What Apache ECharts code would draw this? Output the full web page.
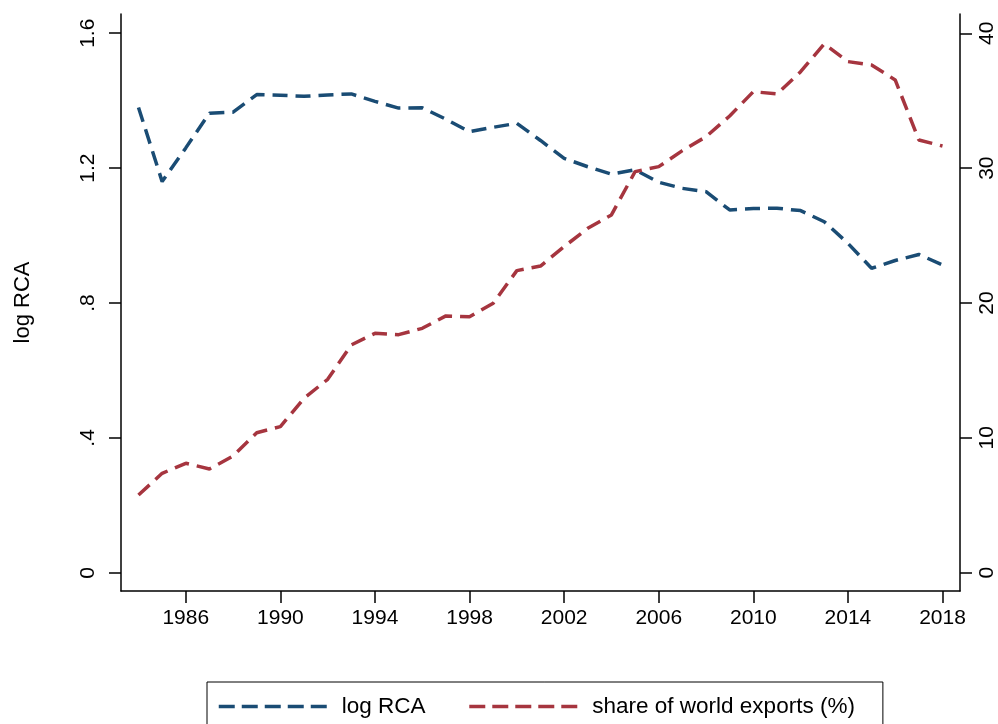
<!DOCTYPE html>
<html>
<head>
<meta charset="utf-8">
<script src="https://cdn.jsdelivr.net/npm/echarts@6/dist/echarts.min.js"></script>
<style>
  html, body { margin: 0; padding: 0; background: #fff; }
  #chart { width: 998px; height: 724px; }
</style>
</head>
<body>
<div id="chart"></div>
<script>
// years 1984..2018
const years = [
  1984, 1985, 1986, 1987, 1988, 1989, 1990, 1991, 1992, 1993, 1994, 1995,
  1996, 1997, 1998, 1999, 2000, 2001, 2002, 2003, 2004, 2005, 2006, 2007,
  2008, 2009, 2010, 2011, 2012, 2013, 2014, 2015, 2016, 2017, 2018
];

// log RCA (left axis)
const logRCA = [
  1.38, 1.16, 1.26, 1.363, 1.366, 1.418, 1.416, 1.413, 1.417, 1.42, 1.398, 1.378,
  1.379, 1.345, 1.308, 1.321, 1.333, 1.282, 1.229, 1.204, 1.182, 1.195, 1.158, 1.14,
  1.13, 1.076, 1.08, 1.081, 1.074, 1.041, 0.977, 0.903, 0.926, 0.944, 0.913
];

// share of world exports in % (right axis)
const shareExports = [
  5.76, 7.37, 8.11, 7.69, 8.65, 10.38, 10.83, 12.93, 14.34, 16.89, 17.75, 17.65,
  18.12, 19.04, 18.98, 19.98, 22.4, 22.74, 24.18, 25.54, 26.53, 29.74, 30.11, 31.3,
  32.33, 33.87, 35.67, 35.5, 37.15, 39.21, 37.9, 37.65, 36.54, 32.09, 31.64
];

const xTicks = [1986, 1990, 1994, 1998, 2002, 2006, 2010, 2014, 2018];
const leftTicks = [0, 0.4, 0.8, 1.2, 1.6];
const leftTickLabels = ["0", ".4", ".8", "1.2", "1.6"];
const rightTicks = [0, 10, 20, 30, 40];

const navy = "#1a4c74";
const maroon = "#a6353f";
const font = "'Liberation Sans', Arial, sans-serif";

const chart = echarts.init(document.getElementById("chart"), null, { renderer: "canvas" });

const axisCommon = {
  axisLine: { show: true, onZero: false, lineStyle: { color: "#000", width: 1.5 } },
  axisTick: { show: true, length: 12, lineStyle: { color: "#000", width: 1.5 } },
  splitLine: { show: false },
};

const option = {
  animation: false,
  backgroundColor: "#fff",
  grid: { left: 121, right: 35, top: 14, bottom: 133, containLabel: false },
  xAxis: {
    type: "value",
    min: 1983.26,
    max: 2018.74,
    ...axisCommon,
    axisTick: { ...axisCommon.axisTick, customValues: xTicks },
    axisLabel: {
      customValues: xTicks,
      margin: 17,
      color: "#000",
      fontSize: 21,
      fontFamily: font,
      formatter: (v) => String(v),
    },
  },
  yAxis: [
    {
      type: "value",
      position: "left",
      min: -0.054,
      max: 1.657,
      name: "log RCA",
      nameLocation: "middle",
      nameGap: 87,
      nameRotate: 90,
      nameTextStyle: { color: "#000", fontSize: 22, fontFamily: font },
      ...axisCommon,
      axisTick: { ...axisCommon.axisTick, customValues: leftTicks },
      axisLabel: {
        customValues: leftTicks,
        rotate: 90,
        margin: 22,
        color: "#000",
        fontSize: 21,
        fontFamily: font,
        formatter: (v) => leftTickLabels[leftTicks.findIndex((t) => Math.abs(t - v) < 1e-6)] ?? "",
      },
    },
    {
      type: "value",
      position: "right",
      min: -1.36,
      max: 41.43,
      ...axisCommon,
      axisTick: { ...axisCommon.axisTick, customValues: rightTicks },
      axisLabel: {
        customValues: rightTicks,
        rotate: 90,
        margin: 17,
        color: "#000",
        fontSize: 21,
        fontFamily: font,
        formatter: (v) => String(v),
      },
    },
  ],
  legend: {
    left: 207,
    top: 682,
    orient: "horizontal",
    borderColor: "#000",
    borderWidth: 1,
    padding: [13, 28, 40, 10],
    itemWidth: 108,
    itemHeight: 14,
    itemGap: 42,
    itemStyle: { opacity: 0 },
    lineStyle: { width: 3.5, type: [16, 7] },
    textStyle: { color: "#000", fontSize: 22.5, fontFamily: font, padding: [0, 0, 0, 10] },
    data: ["log RCA", "share of world exports (%)"],
  },
  series: [
    {
      name: "log RCA",
      type: "line",
      yAxisIndex: 0,
      symbol: "none",
      data: years.map((y, i) => [y, logRCA[i]]),
      lineStyle: { color: navy, width: 3.5, type: [15, 8] },
      itemStyle: { color: navy },
    },
    {
      name: "share of world exports (%)",
      type: "line",
      yAxisIndex: 1,
      symbol: "none",
      data: years.map((y, i) => [y, shareExports[i]]),
      lineStyle: { color: maroon, width: 3.5, type: [15, 8] },
      itemStyle: { color: maroon },
    },
  ],
};

chart.setOption(option);
</script>
</body>
</html>
